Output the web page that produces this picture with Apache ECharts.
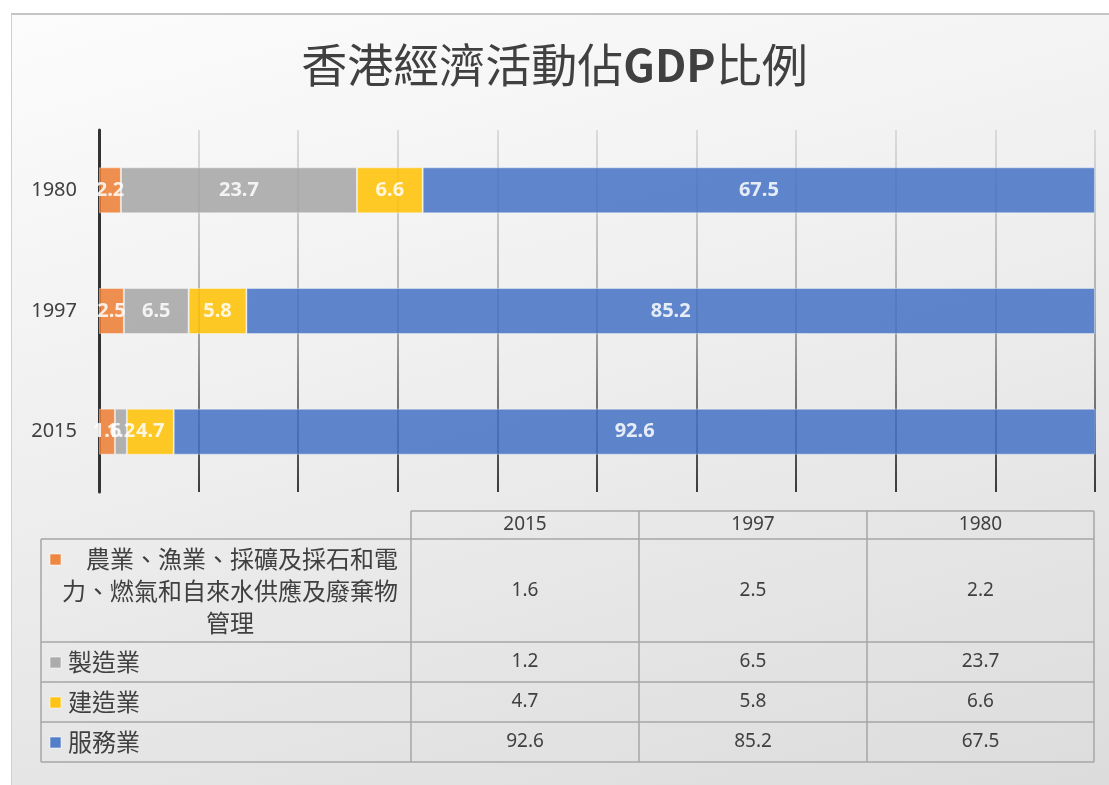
<!DOCTYPE html>
<html>
<head>
    <meta charset="utf-8">
    <title>香港經濟活動佔GDP比例</title>
    <script src="https://cdn.jsdelivr.net/npm/echarts@6/dist/echarts.min.js"></script>
    <style>
        html, body { margin: 0; padding: 0; background: #fff; }
        #frame {
            position: absolute; left: 11px; top: 13px; right: 0; bottom: 0;
            border-top: 2px solid #c4c4c4; border-left: 1px solid #d0d0d0;
            background: linear-gradient(165deg, #fcfcfc 0%, #f0f0f0 40%, #dcdcdc 100%);
        }
        #main { position: absolute; left: 0; top: 0; width: 1109px; height: 785px; }
    </style>
</head>
<body>
    <div id="frame"></div>
    <div id="main"></div>

    <script type="text/javascript">
        // 年份 (由下至上)
        var years = ['2015', '1997', '1980'];

        var seriesNames = [
            '農業、漁業、採礦及採石和電力、燃氣和自來水供應及廢棄物管理',
            '製造業',
            '建造業',
            '服務業'
        ];

        var agriData = [1.6, 2.5, 2.2];
        var manuData = [1.2, 6.5, 23.7];
        var consData = [4.7, 5.8, 6.6];
        var servData = [92.6, 85.2, 67.5];

        var colors = ['#ED7D31', '#A5A5A5', '#FFC000', '#4472C4'];
        var titleText = '{a|香港經濟活動佔}{b|GDP}{a|比例}';

        var allData = [agriData, manuData, consData, servData];

        var myChart = echarts.init(document.getElementById('main'));

        //------------------ 數據表 ------------------
        var colX = [411, 639, 867, 1094];
        var rowY = [539, 642, 682, 722, 762];
        var headTop = 511;
        var tableLeft = 41;
        var lineColor = '#a6a6a6';
        var numFont = '19px "Liberation Sans Narrow", "Noto Sans", sans-serif';

        var tableEls = [];
        function hline(x1, x2, y) {
            tableEls.push({ type: 'line', shape: { x1: x1, y1: y, x2: x2, y2: y }, style: { stroke: lineColor, lineWidth: 1.5 } });
        }
        function vline(x, y1, y2) {
            tableEls.push({ type: 'line', shape: { x1: x, y1: y1, x2: x, y2: y2 }, style: { stroke: lineColor, lineWidth: 1.5 } });
        }
        hline(colX[0], colX[3], headTop);
        rowY.forEach(function (y) { hline(tableLeft, colX[3], y); });
        vline(tableLeft, rowY[0], rowY[4]);
        colX.forEach(function (x) { vline(x, headTop, rowY[4]); });

        // 表頭
        years.forEach(function (yr, j) {
            tableEls.push({
                type: 'text',
                style: { text: yr, x: (colX[j] + colX[j + 1]) / 2, y: (headTop + rowY[0]) / 2, align: 'center', verticalAlign: 'middle', font: numFont, fill: '#404040' }
            });
        });

        seriesNames.forEach(function (name, i) {
            var top = rowY[i], bottom = rowY[i + 1], mid = (top + bottom) / 2;
            var markY = i === 0 ? top + 15 : mid - 5;
            tableEls.push({
                type: 'rect',
                shape: { x: 50, y: markY, width: 11, height: 11 },
                style: { fill: colors[i], stroke: 'rgba(255,255,255,0.6)', lineWidth: 1, opacity: 0.9 }
            });
            if (i === 0) {
                tableEls.push({
                    type: 'text',
                    style: {
                        text: '\u3000' + name, x: 230, y: mid, width: 336, overflow: 'break', lineHeight: 32,
                        align: 'center', verticalAlign: 'middle',
                        font: '24px "Noto Sans CJK TC", sans-serif', fill: '#404040'
                    }
                });
            } else {
                tableEls.push({
                    type: 'text',
                    style: { text: name, x: 68, y: mid, align: 'left', verticalAlign: 'middle', font: '24px "Noto Sans CJK TC", sans-serif', fill: '#404040' }
                });
            }
            allData[i].forEach(function (v, j) {
                tableEls.push({
                    type: 'text',
                    style: { text: String(v), x: (colX[j] + colX[j + 1]) / 2, y: mid, align: 'center', verticalAlign: 'middle', font: numFont, fill: '#404040' }
                });
            });
        });

        var gridGradient = new echarts.graphic.LinearGradient(0, 130, 0, 492, [
            { offset: 0, color: '#d2d2d2' },
            { offset: 0.5, color: '#9a9a9a' },
            { offset: 1, color: '#000000' }
        ], true);

        var option = {
            animation: false,
            title: {
                text: titleText,
                left: 'center',
                top: 32,
                textStyle: {
                    fontWeight: 'normal',
                    rich: {
                        a: { fontSize: 46, fontFamily: 'Noto Sans CJK TC', fontWeight: 'normal', color: '#404040', lineHeight: 56 },
                        b: { fontSize: 44, fontFamily: 'Noto Sans CJK TC', fontWeight: 'bold', color: '#404040', lineHeight: 56 }
                    }
                }
            },
            grid: { left: 99, right: 14, top: 130, bottom: 293, containLabel: false },
            xAxis: {
                type: 'value',
                min: 0,
                max: 100,
                interval: 10,
                axisLabel: { show: false },
                axisLine: { show: false },
                axisTick: { show: false },
                splitLine: { show: true, lineStyle: { color: gridGradient, width: 1.5 } }
            },
            yAxis: {
                type: 'category',
                data: years,
                axisLine: { show: true, lineStyle: { color: '#333', width: 3 } },
                axisTick: { show: false },
                axisLabel: { margin: 22, fontSize: 20, color: '#404040', fontFamily: 'Noto Sans' }
            },
            series: seriesNames.map(function (name, i) {
                return {
                    name: name,
                    type: 'bar',
                    stack: 'gdp',
                    barWidth: 46,
                    data: allData[i],
                    itemStyle: { color: colors[i], opacity: 0.85, borderColor: 'rgba(255,255,255,0.45)', borderWidth: 1 },
                    label: {
                        show: true,
                        position: 'inside',
                        color: '#fff',
                        fontSize: 20,
                        fontWeight: 'bold',
                        fontFamily: 'Noto Sans'
                    }
                };
            }),
            graphic: tableEls
        };

        myChart.setOption(option);
    </script>
</body>
</html>
